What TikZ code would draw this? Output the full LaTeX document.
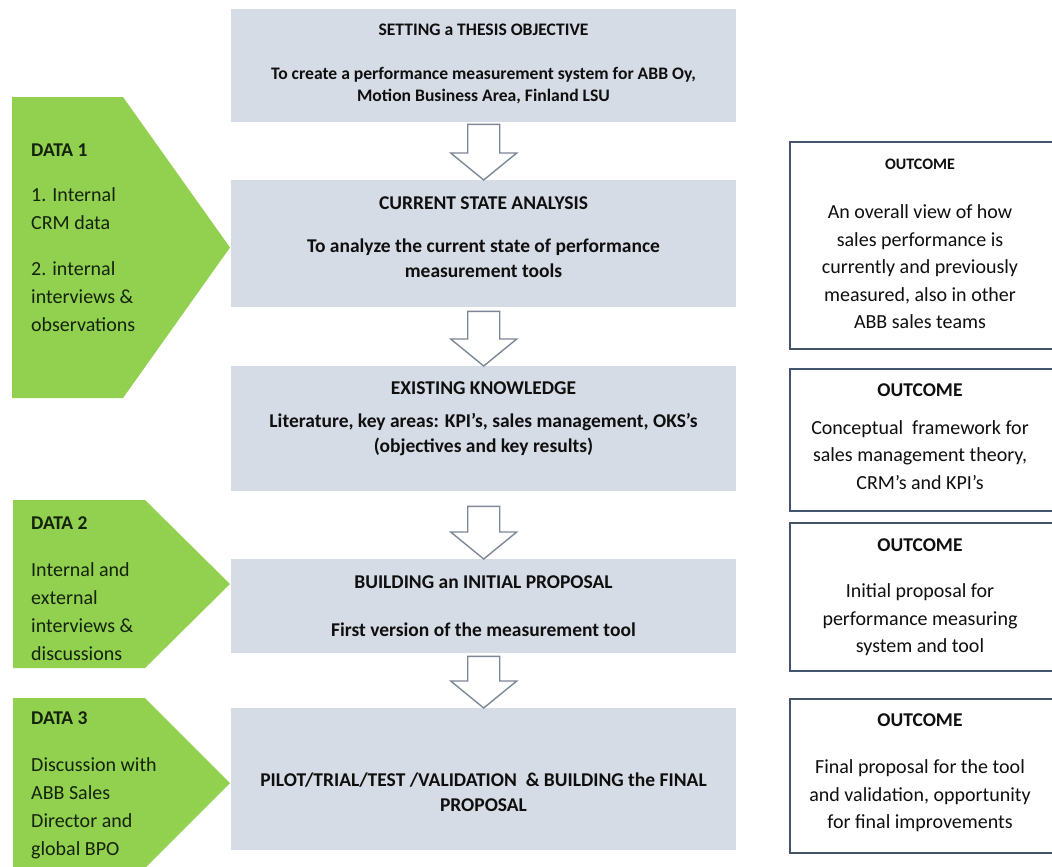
\documentclass[tikz,border=0pt]{standalone}
\usepackage{fontspec}
\setmainfont{Carlito}
\usetikzlibrary{calc}
\definecolor{boxgray}{RGB}{214,220,229}
\definecolor{datagreen}{RGB}{146,208,80}
\definecolor{outline}{RGB}{68,84,106}
\definecolor{arrowgray}{RGB}{125,135,150}
\definecolor{txt}{RGB}{15,15,15}
\definecolor{gtxt}{RGB}{20,35,10}
% #1 upper box, #2 lower box, #3 gap below the upper box
\newcommand\blockarrow[3]{%
  \draw[barrow] let \p1=($(#1.south)+(0,#3)$), \p2=(#2.north) in
    (\x1-16,\y1) -- (\x1+16,\y1) -- (\x1+16,\y2+27) -- (\x1+33,\y2+27) --
    (\x1,\y2) -- (\x1-33,\y2+27) -- (\x1-16,\y2+27) -- cycle;}
\begin{document}
\begin{tikzpicture}[x=1pt,y=-1pt,
  stage/.style={fill=boxgray, draw=none, anchor=north west, inner sep=0pt, minimum width=505pt},
  outbox/.style={fill=white, draw=outline, line width=1.5pt, anchor=north west, inner sep=0pt, minimum width=270pt},
  barrow/.style={draw=arrowgray, fill=white, line width=1.4pt, line join=miter},
  smalltitle/.style={font=\fontsize{17.6}{22}\selectfont\bfseries, text=txt, inner sep=0pt, align=center},
  stagetitle/.style={font=\fontsize{19.5}{25}\selectfont\bfseries, text=txt, inner sep=0pt, align=center},
  outtitle/.style={font=\fontsize{19.5}{25}\selectfont\bfseries, text=txt, inner sep=0pt, align=center},
  outtext/.style={font=\fontsize{20}{27.5}\selectfont, text=txt, inner sep=0pt, align=center},
  datatitle/.style={font=\fontsize{19.5}{28}\selectfont\bfseries, text=gtxt, inner sep=0pt, anchor=west, align=left},
  datatext/.style={font=\fontsize{20}{28}\selectfont, text=gtxt, inner sep=0pt, anchor=west, align=left},
  datashape/.style={fill=datagreen, draw=none}
]
\useasboundingbox (0,0) rectangle (1052,867);
\fill[white] (0,0) rectangle (1052,867);
\clip (0,0) rectangle (1052,867);

% green input shapes
\fill[datashape] (12,97) -- (123,97) -- (230,247.5) -- (123,398) -- (12,398) -- cycle;
\fill[datashape] (13,500) -- (145,500) -- (230,584) -- (145,668) -- (13,668) -- cycle;
\fill[datashape] (13,698) -- (145,698) -- (230,783) -- (145,868) -- (13,868) -- cycle;

\node[datatitle] (d1t) at (31,150) {DATA 1};
\node[datatext] (d1a) at (31,209) {1. Internal\\CRM data};
\node[datatext] (d1b) at (31,297) {2. internal\\interviews \&\\observations};
\node[datatitle] (d2t) at (31,523) {DATA 2};
\node[datatext] (d2a) at (31,611.5) {Internal and\\external\\interviews \&\\discussions};
\node[datatitle] (d3t) at (31,718) {DATA 3};
\node[datatext] (d3a) at (31,808.5) {Discussion with\\ABB Sales\\Director and\\global BPO};

% main stages
\node[stage, minimum height=113pt] (b1) at (231,9) {};
\node[stage, minimum height=127pt] (b2) at (231,180) {};
\node[stage, minimum height=125pt] (b3) at (231,366) {};
\node[stage, minimum height=94pt]  (b4) at (231,559) {};
\node[stage, minimum height=142pt] (b5) at (231,708) {};

\node[smalltitle] (b1t) at (483.5,30) {SETTING a THESIS OBJECTIVE};
\node[smalltitle] (b1x) at (483.5,86) {To create a performance measurement system for ABB Oy,\\Motion Business Area, Finland LSU};
\node[stagetitle] (b2t) at (483.5,203) {CURRENT STATE ANALYSIS};
\node[stagetitle] (b2x) at (483.5,258) {To analyze the current state of performance\\measurement tools};
\node[stagetitle] (b3t) at (483.5,388) {EXISTING KNOWLEDGE};
\node[stagetitle] (b3x) at (483.5,435) {Literature, key areas: KPI’s, sales management, OKS’s\\(objectives and key results)};
\node[stagetitle] (b4t) at (483.5,582) {BUILDING an INITIAL PROPOSAL};
\node[stagetitle] (b4x) at (483.5,630) {First version of the measurement tool};
\node[stagetitle] (b5x) at (483.5,792) {PILOT/TRIAL/TEST /VALIDATION \ \& BUILDING the FINAL\\PROPOSAL};

\blockarrow{b1}{b2}{2}
\blockarrow{b2}{b3}{4}
\blockarrow{b3}{b4}{15}
\blockarrow{b4}{b5}{3}

% outcomes
\node[outbox, minimum height=207pt] (o1) at (789,141) {};
\node[outbox, minimum height=142pt] (o2) at (789,368) {};
\node[outbox, minimum height=148pt] (o3) at (789,522) {};
\node[outbox, minimum height=154pt] (o4) at (789,698) {};

\node[outtitle, font=\fontsize{16}{20}\selectfont\bfseries] (o1t) at (920,164) {OUTCOME};
\node[outtext] (o1x) at (920,267) {An overall view of how\\sales performance is\\currently and previously\\measured, also in other\\ABB sales teams};
\node[outtitle] (o2t) at (920,390) {OUTCOME};
\node[outtext] (o2x) at (920,455) {Conceptual \ framework for\\sales management theory,\\CRM’s and KPI’s};
\node[outtitle] (o3t) at (920,545) {OUTCOME};
\node[outtext] (o3x) at (920,620) {Initial proposal for\\performance measuring\\system and tool};
\node[outtitle] (o4t) at (920,720) {OUTCOME};
\node[outtext] (o4x) at (920,796) {Final proposal for the tool\\and validation, opportunity\\for final improvements};
\end{tikzpicture}
\end{document}
